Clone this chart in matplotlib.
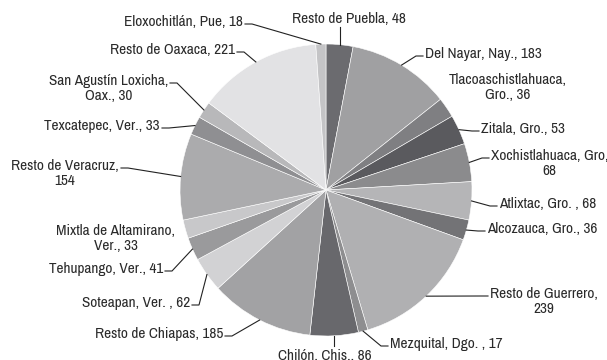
import numpy as np
import matplotlib
matplotlib.use('Agg')
import matplotlib.pyplot as plt

plt.rcParams['font.family'] = ['Liberation Sans Narrow', 'Arial Narrow', 'Archivo Narrow', 'DejaVu Sans']

# data (clockwise from 12 o'clock)
labels = ['Resto de Puebla, 48', 'Del Nayar, Nay., 183', 'Tlacoaschistlahuaca,\nGro., 36',
          'Zitala, Gro., 53', 'Xochistlahuaca, Gro,\n68', 'Atlixtac, Gro. , 68',
          'Alcozauca, Gro., 36', 'Resto de Guerrero,\n239', 'Mezquital, Dgo. , 17',
          'Chilón, Chis., 86', 'Resto de Chiapas, 185', 'Soteapan, Ver. , 62',
          'Tehupango, Ver., 41', 'Mixtla de Altamirano,\nVer., 33', 'Resto de Veracruz,\n154',
          'Texcatepec, Ver., 33', 'San Agustín Loxicha,\nOax., 30', 'Resto de Oaxaca, 221',
          'Eloxochitlán, Pue, 18']
values = [48, 183, 36, 53, 68, 68, 36, 239, 17, 86, 185, 62, 41, 33, 154, 33, 30, 221, 18]
colors = ['#6b6b6f', '#a0a0a2', '#7f7f82', '#5a5a5e', '#8b8b8d', '#b5b5b7', '#737376',
          '#b0b0b2', '#8e8e90', '#68686c', '#a2a2a4', '#d2d2d4', '#9a9a9c', '#c8c8ca',
          '#ababad', '#8f8f92', '#b8b8ba', '#e2e2e4', '#c4c4c6']

# label placement in pixel coords (x, y of first line, align, leader type)
label_pos = [
    (349, 18, 'center', 'v'), (425, 53, 'left', 'h'), (508, 79, 'center', None),
    (481, 128, 'left', 'h'), (491, 155, 'left', 'h'), (499, 203, 'left', 'h'),
    (487, 228, 'left', 'h'), (490, 293, 'left', 'h'), (390, 343, 'left', 'h'),
    (325, 355, 'center', 'v'), (223, 333, 'right', 'h'), (190, 302, 'right', 'h'),
    (163, 268, 'right', 'h'), (116, 230, 'center', None), (119, 165, 'right', 'h'),
    (160, 125, 'right', 'h'), (168, 80, 'right', 'h'), (235, 49, 'right', 'h'),
    (243, 21, 'right', 'h'),
]

W, H = 607, 360
fig = plt.figure(figsize=(W / 100, H / 100), dpi=100)
ax = fig.add_axes([0, 0, 1, 1])

cx, cy, r = 326, H - 190, 146
wedges, _ = ax.pie(values, colors=colors, startangle=90, counterclock=False,
                   center=(cx, cy), radius=r, frame=True,
                   wedgeprops=dict(edgecolor='white', linewidth=0.4))
ax.set_xlim(0, W)
ax.set_ylim(0, H)
ax.set_axis_off()

for w, lab, (tx, ty, ha, lead) in zip(wedges, labels, label_pos):
    ty = H - ty
    ang = np.deg2rad((w.theta1 + w.theta2) / 2)
    ex, ey = cx + r * np.cos(ang), cy + r * np.sin(ang)
    ax.text(tx, ty + 6, lab, ha=ha, va='top', multialignment='center', linespacing=1.05,
            fontsize=11, color='#2a2a2a')
    if lead == 'h':
        if ha == 'right':
            x0, x1 = tx + 2, tx + 9
        else:
            x0, x1 = tx - 2, tx - 9
        ax.plot([x0, x1, ex], [ty - 3, ty - 3, ey], color='#222222', lw=0.8, solid_joinstyle='miter')
    elif lead == 'v':
        y0 = ty - 9 if ty > cy else ty + 9
        ax.plot([ex, ex], [y0, ey], color='#222222', lw=0.8)

fig.savefig('out.png', dpi=100, facecolor='white')
